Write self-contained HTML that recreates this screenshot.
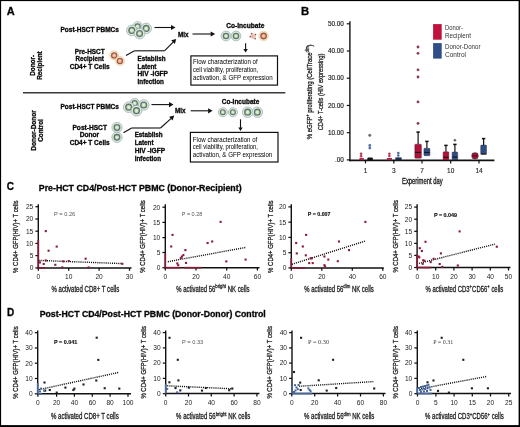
<!DOCTYPE html>
<html><head><meta charset="utf-8"><style>
html,body{margin:0;padding:0;background:#fff;}
svg{display:block;will-change:transform;font-family:"Liberation Sans",sans-serif;}
</style></head><body>
<svg width="520" height="427" viewBox="0 0 520 427">
<rect x="0" y="0" width="520" height="427" fill="#fff"/>
<text x="6.8" y="15.2" font-size="11" font-weight="bold" stroke="#111" stroke-width="0.3">A</text>
<text x="35.1" y="75.8" font-size="6.3" font-weight="bold" stroke="#111" stroke-width="0.3" textLength="20.9" lengthAdjust="spacingAndGlyphs" transform="rotate(-90 35.1 75.8)">Donor-</text>
<text x="42.4" y="79.7" font-size="6.3" font-weight="bold" stroke="#111" stroke-width="0.3" textLength="28.4" lengthAdjust="spacingAndGlyphs" transform="rotate(-90 42.4 79.7)">Recipient</text>
<text x="36.0" y="150.8" font-size="6.3" font-weight="bold" stroke="#111" stroke-width="0.3" textLength="40.7" lengthAdjust="spacingAndGlyphs" transform="rotate(-90 36.0 150.8)">Donor-Donor</text>
<text x="43.0" y="141.7" font-size="6.3" font-weight="bold" stroke="#111" stroke-width="0.3" textLength="22.5" lengthAdjust="spacingAndGlyphs" transform="rotate(-90 43.0 141.7)">Control</text>
<line x1="23" y1="92.8" x2="285.3" y2="92.8" stroke="#3a3a3a" stroke-width="1.5"/>
<text x="60.5" y="32.1" font-size="6.3" font-weight="bold" stroke="#111" stroke-width="0.3" textLength="58.4" lengthAdjust="spacingAndGlyphs">Post-HSCT PBMCs</text>
<text x="89.7" y="53.9" font-size="6.3" font-weight="bold" stroke="#111" stroke-width="0.3" text-anchor="middle" textLength="29.9" lengthAdjust="spacingAndGlyphs">Pre-HSCT</text>
<text x="89.7" y="60.8" font-size="6.3" font-weight="bold" stroke="#111" stroke-width="0.3" text-anchor="middle" textLength="28.2" lengthAdjust="spacingAndGlyphs">Recipient</text>
<text x="89.7" y="68.8" font-size="6.3" font-weight="bold" stroke="#111" stroke-width="0.3" text-anchor="middle" textLength="40.0" lengthAdjust="spacingAndGlyphs">CD4+ T Cells</text>
<text x="178" y="36.8" font-size="6.3" font-weight="bold" stroke="#111" stroke-width="0.3" textLength="10.6" lengthAdjust="spacingAndGlyphs">Mix</text>
<circle cx="137.6" cy="26.4" r="4.77" fill="#dfe9e8" stroke="#9fb4ae" stroke-width="0.8"/>
<circle cx="137.6" cy="26.4" r="2.61" fill="#c8dcb8" stroke="#5e7868" stroke-width="1.215"/>
<circle cx="137.6" cy="26.4" r="0.9900000000000001" fill="#e4efdc"/>
<circle cx="131.8" cy="30.4" r="5.3" fill="#dfe9e8" stroke="#9fb4ae" stroke-width="0.8"/>
<circle cx="131.8" cy="30.4" r="2.9" fill="#c8dcb8" stroke="#5e7868" stroke-width="1.35"/>
<circle cx="131.8" cy="30.4" r="1.1" fill="#e4efdc"/>
<circle cx="146.2" cy="28.4" r="5.3" fill="#dfe9e8" stroke="#9fb4ae" stroke-width="0.8"/>
<circle cx="146.2" cy="28.4" r="2.9" fill="#c8dcb8" stroke="#5e7868" stroke-width="1.35"/>
<circle cx="146.2" cy="28.4" r="1.1" fill="#e4efdc"/>
<circle cx="139.6" cy="33.6" r="5.3" fill="#dfe9e8" stroke="#9fb4ae" stroke-width="0.8"/>
<circle cx="139.6" cy="33.6" r="2.9" fill="#c8dcb8" stroke="#5e7868" stroke-width="1.35"/>
<circle cx="139.6" cy="33.6" r="1.1" fill="#e4efdc"/>
<circle cx="114.2" cy="55.4" r="4.6" fill="#f6ead2" stroke="#e4cfa8" stroke-width="0.7"/>
<circle cx="114.2" cy="55.4" r="2.6" fill="#eeaa98" stroke="#a35c3c" stroke-width="1.25"/>
<circle cx="114.2" cy="55.4" r="1.0" fill="#f8d4c8"/>
<circle cx="119.9" cy="60.9" r="4.6" fill="#f6ead2" stroke="#e4cfa8" stroke-width="0.7"/>
<circle cx="119.9" cy="60.9" r="2.6" fill="#eeaa98" stroke="#a35c3c" stroke-width="1.25"/>
<circle cx="119.9" cy="60.9" r="1.0" fill="#f8d4c8"/>
<line x1="154.5" y1="27.5" x2="171.5" y2="27.5" stroke="#111" stroke-width="1.1"/>
<path d="M175.50,27.50 L171.00,30.10 L171.00,24.90 Z" fill="#111"/>
<line x1="126" y1="55.4" x2="134.5" y2="50.8" stroke="#111" stroke-width="1.1"/>
<line x1="134.5" y1="50.8" x2="164.5" y2="50.8" stroke="#111" stroke-width="1.1"/>
<line x1="164.5" y1="50.8" x2="173.38363423425469" y2="41.84043726801664" stroke="#111" stroke-width="1.1"/>
<path d="M176.20,39.00 L174.88,44.03 L171.19,40.36 Z" fill="#111"/>
<text x="137.6" y="61.0" font-size="6.3" font-weight="bold" stroke="#111" stroke-width="0.3" textLength="27.9" lengthAdjust="spacingAndGlyphs">Establish</text>
<text x="137.6" y="68.8" font-size="6.3" font-weight="bold" stroke="#111" stroke-width="0.3" textLength="18.8" lengthAdjust="spacingAndGlyphs">Latent</text>
<text x="137.6" y="76.4" font-size="6.3" font-weight="bold" stroke="#111" stroke-width="0.3" textLength="30.4" lengthAdjust="spacingAndGlyphs">HIV -iGFP</text>
<text x="137.6" y="84.0" font-size="6.3" font-weight="bold" stroke="#111" stroke-width="0.3" textLength="26.4" lengthAdjust="spacingAndGlyphs">Infection</text>
<line x1="192.5" y1="34.0" x2="211.2" y2="34.0" stroke="#111" stroke-width="1.1"/>
<path d="M215.20,34.00 L210.70,36.60 L210.70,31.40 Z" fill="#111"/>
<text x="226.2" y="27.5" font-size="6.3" font-weight="bold" stroke="#111" stroke-width="0.3" textLength="38.2" lengthAdjust="spacingAndGlyphs">Co-Incubate</text>
<circle cx="226" cy="36" r="4.876" fill="#dfe9e8" stroke="#9fb4ae" stroke-width="0.8"/>
<circle cx="226" cy="36" r="2.668" fill="#c8dcb8" stroke="#5e7868" stroke-width="1.2420000000000002"/>
<circle cx="226" cy="36" r="1.0120000000000002" fill="#e4efdc"/>
<circle cx="236" cy="36" r="4.876" fill="#dfe9e8" stroke="#9fb4ae" stroke-width="0.8"/>
<circle cx="236" cy="36" r="2.668" fill="#c8dcb8" stroke="#5e7868" stroke-width="1.2420000000000002"/>
<circle cx="236" cy="36" r="1.0120000000000002" fill="#e4efdc"/>
<circle cx="253.1" cy="36.2" r="2.6" fill="#f3c9c4"/>
<circle cx="252.6" cy="36.6" r="1.3" fill="#eab0ac"/>
<circle cx="251.6" cy="33.6" r="0.85" fill="#8e5e50"/>
<circle cx="255.5" cy="34.6" r="0.85" fill="#8e5e50"/>
<circle cx="250.3" cy="36.6" r="0.85" fill="#8e5e50"/>
<circle cx="255.2" cy="38.6" r="0.85" fill="#8e5e50"/>
<circle cx="263.6" cy="36" r="4.83" fill="#f6ead2" stroke="#e4cfa8" stroke-width="0.7"/>
<circle cx="263.6" cy="36" r="2.7300000000000004" fill="#eeaa98" stroke="#a35c3c" stroke-width="1.3125"/>
<circle cx="263.6" cy="36" r="1.05" fill="#f8d4c8"/>
<line x1="245.6" y1="43.3" x2="245.6" y2="49.4" stroke="#111" stroke-width="1.1"/>
<path d="M245.60,52.40 L243.40,48.90 L247.80,48.90 Z" fill="#111"/>
<rect x="190.9" y="55.9" width="86.6" height="29.2" fill="none" stroke="#111" stroke-width="1.2"/>
<text x="193.1" y="63.8" font-size="6.6" textLength="64.5" lengthAdjust="spacingAndGlyphs">Flow characterization of</text>
<text x="193.1" y="71.8" font-size="6.6" textLength="65.1" lengthAdjust="spacingAndGlyphs">cell viability, proliferation,</text>
<text x="193.1" y="79.5" font-size="6.6" textLength="79.5" lengthAdjust="spacingAndGlyphs">activation, &amp; GFP expression</text>
<text x="60.5" y="108.8" font-size="6.3" font-weight="bold" stroke="#111" stroke-width="0.3" textLength="58.4" lengthAdjust="spacingAndGlyphs">Post-HSCT PBMCs</text>
<text x="89.7" y="129.6" font-size="6.3" font-weight="bold" stroke="#111" stroke-width="0.3" text-anchor="middle" textLength="34.5" lengthAdjust="spacingAndGlyphs">Post-HSCT</text>
<text x="89.5" y="137.3" font-size="6.3" font-weight="bold" stroke="#111" stroke-width="0.3" text-anchor="middle" textLength="19.4" lengthAdjust="spacingAndGlyphs">Donor</text>
<text x="89.7" y="145.2" font-size="6.3" font-weight="bold" stroke="#111" stroke-width="0.3" text-anchor="middle" textLength="40.0" lengthAdjust="spacingAndGlyphs">CD4+ T Cells</text>
<circle cx="134.7" cy="103.2" r="4.77" fill="#dfe9e8" stroke="#9fb4ae" stroke-width="0.8"/>
<circle cx="134.7" cy="103.2" r="2.61" fill="#c8dcb8" stroke="#5e7868" stroke-width="1.215"/>
<circle cx="134.7" cy="103.2" r="0.9900000000000001" fill="#e4efdc"/>
<circle cx="128.7" cy="107.2" r="5.3" fill="#dfe9e8" stroke="#9fb4ae" stroke-width="0.8"/>
<circle cx="128.7" cy="107.2" r="2.9" fill="#c8dcb8" stroke="#5e7868" stroke-width="1.35"/>
<circle cx="128.7" cy="107.2" r="1.1" fill="#e4efdc"/>
<circle cx="143.7" cy="105.0" r="5.3" fill="#dfe9e8" stroke="#9fb4ae" stroke-width="0.8"/>
<circle cx="143.7" cy="105.0" r="2.9" fill="#c8dcb8" stroke="#5e7868" stroke-width="1.35"/>
<circle cx="143.7" cy="105.0" r="1.1" fill="#e4efdc"/>
<circle cx="136.5" cy="110.7" r="5.3" fill="#dfe9e8" stroke="#9fb4ae" stroke-width="0.8"/>
<circle cx="136.5" cy="110.7" r="2.9" fill="#c8dcb8" stroke="#5e7868" stroke-width="1.35"/>
<circle cx="136.5" cy="110.7" r="1.1" fill="#e4efdc"/>
<circle cx="117" cy="127.5" r="5.141" fill="#dfe9e8" stroke="#9fb4ae" stroke-width="0.8"/>
<circle cx="117" cy="127.5" r="2.8129999999999997" fill="#c8dcb8" stroke="#5e7868" stroke-width="1.3095"/>
<circle cx="117" cy="127.5" r="1.067" fill="#e4efdc"/>
<circle cx="117" cy="137.3" r="5.141" fill="#dfe9e8" stroke="#9fb4ae" stroke-width="0.8"/>
<circle cx="117" cy="137.3" r="2.8129999999999997" fill="#c8dcb8" stroke="#5e7868" stroke-width="1.3095"/>
<circle cx="117" cy="137.3" r="1.067" fill="#e4efdc"/>
<line x1="151.5" y1="104.6" x2="169.5" y2="104.6" stroke="#111" stroke-width="1.1"/>
<path d="M173.50,104.60 L169.00,107.20 L169.00,102.00 Z" fill="#111"/>
<text x="175" y="113.2" font-size="6.3" font-weight="bold" stroke="#111" stroke-width="0.3" textLength="10.6" lengthAdjust="spacingAndGlyphs">Mix</text>
<line x1="123.5" y1="132.7" x2="131.6" y2="128.0" stroke="#111" stroke-width="1.1"/>
<line x1="131.6" y1="128.0" x2="160.5" y2="128.0" stroke="#111" stroke-width="1.1"/>
<line x1="160.5" y1="128.0" x2="171.23436977031065" y2="118.28422006190861" stroke="#111" stroke-width="1.1"/>
<path d="M174.20,115.60 L172.61,120.55 L169.12,116.69 Z" fill="#111"/>
<text x="134.7" y="137.4" font-size="6.3" font-weight="bold" stroke="#111" stroke-width="0.3" textLength="27.9" lengthAdjust="spacingAndGlyphs">Establish</text>
<text x="134.7" y="145.1" font-size="6.3" font-weight="bold" stroke="#111" stroke-width="0.3" textLength="18.8" lengthAdjust="spacingAndGlyphs">Latent</text>
<text x="134.7" y="152.8" font-size="6.3" font-weight="bold" stroke="#111" stroke-width="0.3" textLength="30.4" lengthAdjust="spacingAndGlyphs">HIV -iGFP</text>
<text x="134.7" y="160.5" font-size="6.3" font-weight="bold" stroke="#111" stroke-width="0.3" textLength="26.4" lengthAdjust="spacingAndGlyphs">Infection</text>
<line x1="190.7" y1="110.8" x2="208.6" y2="110.8" stroke="#111" stroke-width="1.1"/>
<path d="M212.60,110.80 L208.10,113.40 L208.10,108.20 Z" fill="#111"/>
<text x="221.8" y="103.8" font-size="6.3" font-weight="bold" stroke="#111" stroke-width="0.3" textLength="37.5" lengthAdjust="spacingAndGlyphs">Co-Incubate</text>
<circle cx="222.8" cy="112.2" r="4.505" fill="#dfe9e8" stroke="#9fb4ae" stroke-width="0.8"/>
<circle cx="222.8" cy="112.2" r="2.465" fill="#c8dcb8" stroke="#5e7868" stroke-width="1.1475"/>
<circle cx="222.8" cy="112.2" r="0.935" fill="#e4efdc"/>
<circle cx="232.9" cy="112.2" r="4.505" fill="#dfe9e8" stroke="#9fb4ae" stroke-width="0.8"/>
<circle cx="232.9" cy="112.2" r="2.465" fill="#c8dcb8" stroke="#5e7868" stroke-width="1.1475"/>
<circle cx="232.9" cy="112.2" r="0.935" fill="#e4efdc"/>
<circle cx="247.6" cy="112.2" r="5.3" fill="#dfe9e8" stroke="#9fb4ae" stroke-width="0.8"/>
<circle cx="247.6" cy="112.2" r="2.9" fill="#c8dcb8" stroke="#5e7868" stroke-width="1.35"/>
<circle cx="247.6" cy="112.2" r="1.1" fill="#e4efdc"/>
<circle cx="257.3" cy="112.2" r="5.3" fill="#dfe9e8" stroke="#9fb4ae" stroke-width="0.8"/>
<circle cx="257.3" cy="112.2" r="2.9" fill="#c8dcb8" stroke="#5e7868" stroke-width="1.35"/>
<circle cx="257.3" cy="112.2" r="1.1" fill="#e4efdc"/>
<line x1="240.5" y1="119.3" x2="240.5" y2="128.0" stroke="#111" stroke-width="1.1"/>
<path d="M240.50,131.00 L238.30,127.50 L242.70,127.50 Z" fill="#111"/>
<rect x="190.4" y="132.4" width="87.6" height="29.6" fill="none" stroke="#111" stroke-width="1.2"/>
<text x="192.8" y="141.5" font-size="6.6" textLength="64.5" lengthAdjust="spacingAndGlyphs">Flow characterization of</text>
<text x="192.8" y="149.3" font-size="6.6" textLength="65.1" lengthAdjust="spacingAndGlyphs">cell viability, proliferation,</text>
<text x="192.8" y="157.0" font-size="6.6" textLength="79.5" lengthAdjust="spacingAndGlyphs">activation, &amp; GFP expression</text>
<text x="301.0" y="15.3" font-size="11.3" font-weight="bold" stroke="#111" stroke-width="0.3">B</text>
<text transform="translate(312.3,139.2) rotate(-90) scale(0.7597,1)" font-size="7.9" fill="#222" stroke="#222" stroke-width="0.3"><tspan>% eGFP</tspan><tspan dy="-3.32" font-size="4.90">+</tspan><tspan dy="3.32" font-size="7.9"> proliferating (CellTrace</tspan><tspan dy="-3.32" font-size="4.90">dim</tspan><tspan dy="3.32" font-size="7.9">)</tspan></text>
<text transform="translate(323.4,130.3) rotate(-90) scale(0.7223,1)" font-size="7.9" fill="#222" stroke="#222" stroke-width="0.3"><tspan>CD4+ T-cells (HIV expressing)</tspan></text>
<line x1="349.9" y1="21.3" x2="349.9" y2="161.2" stroke="#111" stroke-width="1.4"/>
<line x1="349.2" y1="160.4" x2="494.4" y2="160.4" stroke="#111" stroke-width="1.8"/>
<line x1="346.8" y1="23.8" x2="349.9" y2="23.8" stroke="#111" stroke-width="1.2"/>
<text x="343.9" y="26.0" font-size="6.3" text-anchor="end" fill="#1a1a1a" textLength="16.0" lengthAdjust="spacingAndGlyphs" stroke="#1a1a1a" stroke-width="0.15">50.00</text>
<line x1="346.8" y1="51.019999999999996" x2="349.9" y2="51.019999999999996" stroke="#111" stroke-width="1.2"/>
<text x="343.9" y="53.22" font-size="6.3" text-anchor="end" fill="#1a1a1a" textLength="16.0" lengthAdjust="spacingAndGlyphs" stroke="#1a1a1a" stroke-width="0.15">40.00</text>
<line x1="346.8" y1="78.24" x2="349.9" y2="78.24" stroke="#111" stroke-width="1.2"/>
<text x="343.9" y="80.44" font-size="6.3" text-anchor="end" fill="#1a1a1a" textLength="16.0" lengthAdjust="spacingAndGlyphs" stroke="#1a1a1a" stroke-width="0.15">30.00</text>
<line x1="346.8" y1="105.46" x2="349.9" y2="105.46" stroke="#111" stroke-width="1.2"/>
<text x="343.9" y="107.66" font-size="6.3" text-anchor="end" fill="#1a1a1a" textLength="16.0" lengthAdjust="spacingAndGlyphs" stroke="#1a1a1a" stroke-width="0.15">20.00</text>
<line x1="346.8" y1="132.68" x2="349.9" y2="132.68" stroke="#111" stroke-width="1.2"/>
<text x="343.9" y="134.88" font-size="6.3" text-anchor="end" fill="#1a1a1a" textLength="16.0" lengthAdjust="spacingAndGlyphs" stroke="#1a1a1a" stroke-width="0.15">10.00</text>
<line x1="346.8" y1="159.9" x2="349.9" y2="159.9" stroke="#111" stroke-width="1.2"/>
<text x="343.9" y="162.1" font-size="6.3" text-anchor="end" fill="#1a1a1a" textLength="8.9" lengthAdjust="spacingAndGlyphs" stroke="#1a1a1a" stroke-width="0.15">.00</text>
<line x1="365.5" y1="160.4" x2="365.5" y2="163.4" stroke="#111" stroke-width="1.2"/>
<text x="365.5" y="172.6" font-size="6.5" text-anchor="middle" fill="#1a1a1a" stroke="#1a1a1a" stroke-width="0.12">1</text>
<line x1="393.8" y1="160.4" x2="393.8" y2="163.4" stroke="#111" stroke-width="1.2"/>
<text x="393.8" y="172.6" font-size="6.5" text-anchor="middle" fill="#1a1a1a" stroke="#1a1a1a" stroke-width="0.12">3</text>
<line x1="422.0" y1="160.4" x2="422.0" y2="163.4" stroke="#111" stroke-width="1.2"/>
<text x="422.0" y="172.6" font-size="6.5" text-anchor="middle" fill="#1a1a1a" stroke="#1a1a1a" stroke-width="0.12">7</text>
<line x1="450.7" y1="160.4" x2="450.7" y2="163.4" stroke="#111" stroke-width="1.2"/>
<text x="450.7" y="172.6" font-size="6.5" text-anchor="middle" fill="#1a1a1a" stroke="#1a1a1a" stroke-width="0.12">10</text>
<line x1="479.0" y1="160.4" x2="479.0" y2="163.4" stroke="#111" stroke-width="1.2"/>
<text x="479.0" y="172.6" font-size="6.5" text-anchor="middle" fill="#1a1a1a" stroke="#1a1a1a" stroke-width="0.12">14</text>
<text transform="translate(402.0,183.7) scale(0.6717,1)" font-size="8.7" fill="#222" stroke="#222" stroke-width="0.35"><tspan>Experiment day</tspan></text>
<rect x="433.1" y="24.1" width="8.6" height="15.6" fill="#c0123c"/>
<rect x="433.1" y="43.1" width="8.6" height="15.5" fill="#2d4f86"/>
<text x="445.0" y="30.0" font-size="6.3" fill="#333" textLength="18.0" lengthAdjust="spacingAndGlyphs">Donor-</text>
<text x="445.0" y="37.8" font-size="6.3" fill="#333" textLength="26.0" lengthAdjust="spacingAndGlyphs">Recipient</text>
<text x="445.0" y="49.3" font-size="6.3" fill="#333" textLength="35.5" lengthAdjust="spacingAndGlyphs">Donor-Donor</text>
<text x="445.0" y="57.0" font-size="6.3" fill="#333" textLength="21.0" lengthAdjust="spacingAndGlyphs">Control</text>
<circle cx="361.1" cy="153.7" r="1.3" fill="#b8385a"/>
<circle cx="361.1" cy="156.2" r="1.3" fill="#b8385a"/>
<rect x="359.4" y="158.0" width="4.4" height="2.2" fill="#a82848"/>
<circle cx="369.8" cy="135.3" r="1.5" fill="#6a7280"/>
<circle cx="369.8" cy="145.4" r="1.4" fill="#5674a4"/>
<circle cx="369.8" cy="148.0" r="1.4" fill="#5674a4"/>
<rect x="367.3" y="157.4" width="5.6" height="3.0" fill="#111" rx="1.2"/>
<circle cx="389.4" cy="153.7" r="1.25" fill="#b8385a"/>
<circle cx="389.4" cy="156.1" r="1.25" fill="#b8385a"/>
<rect x="386.8" y="158.0" width="5.2" height="2.2" fill="#a82848"/>
<circle cx="398.3" cy="153.0" r="1.25" fill="#4a6898"/>
<circle cx="398.3" cy="155.4" r="1.25" fill="#4a6898"/>
<rect x="395.4" y="157.4" width="6.2" height="3.0" fill="#1b2b48"/>
<circle cx="418.0" cy="47.0" r="1.4" fill="#8c3a52"/>
<circle cx="418.0" cy="53.3" r="1.4" fill="#8c3a52"/>
<circle cx="418.0" cy="69.8" r="1.4" fill="#8c3a52"/>
<circle cx="418.0" cy="77.0" r="1.4" fill="#8c3a52"/>
<circle cx="418.0" cy="101.9" r="1.4" fill="#8c3a52"/>
<circle cx="418.0" cy="123.4" r="1.4" fill="#8c3a52"/>
<line x1="418.1" y1="131.9" x2="418.1" y2="144.2" stroke="#111" stroke-width="1.2"/>
<line x1="416.40000000000003" y1="132.1" x2="419.8" y2="132.1" stroke="#111" stroke-width="1.5"/>
<rect x="414.8" y="144.2" width="6.599999999999966" height="14.0" fill="#b3113a" stroke="#2a1a20" stroke-width="0.4" rx="0.8"/>
<line x1="415.1" y1="152.4" x2="421.09999999999997" y2="152.4" stroke="#151515" stroke-width="1.1"/>
<line x1="426.9" y1="141.2" x2="426.9" y2="148.3" stroke="#111" stroke-width="1.2"/>
<line x1="425.2" y1="141.39999999999998" x2="428.59999999999997" y2="141.39999999999998" stroke="#111" stroke-width="1.5"/>
<rect x="423.9" y="148.3" width="6.0" height="7.399999999999977" fill="#2d4f86" stroke="#2a1a20" stroke-width="0.4" rx="0.8"/>
<line x1="424.2" y1="152.4" x2="429.59999999999997" y2="152.4" stroke="#151515" stroke-width="1.1"/>
<line x1="445.95000000000005" y1="145.2" x2="445.95000000000005" y2="151.8" stroke="#111" stroke-width="1.2"/>
<line x1="444.25000000000006" y1="145.39999999999998" x2="447.65000000000003" y2="145.39999999999998" stroke="#111" stroke-width="1.5"/>
<rect x="443.1" y="151.8" width="5.699999999999989" height="8.199999999999989" fill="#b3113a" stroke="#2a1a20" stroke-width="0.4" rx="0.8"/>
<line x1="443.40000000000003" y1="157.2" x2="448.5" y2="157.2" stroke="#151515" stroke-width="1.1"/>
<line x1="454.9" y1="144.2" x2="454.9" y2="152.0" stroke="#111" stroke-width="1.2"/>
<line x1="453.2" y1="144.39999999999998" x2="456.59999999999997" y2="144.39999999999998" stroke="#111" stroke-width="1.5"/>
<rect x="452.1" y="152.0" width="5.599999999999966" height="8.0" fill="#2d4f86" stroke="#2a1a20" stroke-width="0.4" rx="0.8"/>
<line x1="452.40000000000003" y1="157.0" x2="457.4" y2="157.0" stroke="#151515" stroke-width="1.1"/>
<circle cx="454.9" cy="140.3" r="1.3" fill="#666"/>
<rect x="471.8" y="152.7" width="6.4" height="6.2" fill="#a8123a" stroke="#2a1a20" stroke-width="0.5" rx="2.4"/>
<line x1="472.3" y1="155.9" x2="477.7" y2="155.9" stroke="#3a0a18" stroke-width="0.9"/>
<line x1="483.6" y1="138.4" x2="483.6" y2="145.1" stroke="#111" stroke-width="1.2"/>
<line x1="481.90000000000003" y1="138.6" x2="485.3" y2="138.6" stroke="#111" stroke-width="1.5"/>
<rect x="480.7" y="145.1" width="5.800000000000011" height="9.0" fill="#2d4f86" stroke="#2a1a20" stroke-width="0.4" rx="0.8"/>
<line x1="480.7" y1="154.1" x2="486.5" y2="154.1" stroke="#111" stroke-width="1.0"/>
<text x="6.8" y="190.3" font-size="10.0" font-weight="bold" stroke="#111" stroke-width="0.3">C</text>
<text x="38.8" y="190.9" font-size="8.2" font-weight="bold" stroke="#111" stroke-width="0.3" textLength="202.8" lengthAdjust="spacingAndGlyphs">Pre-HCT CD4/Post-HCT PBMC (Donor-Recipient)</text>
<text x="6.9" y="315.6" font-size="10.0" font-weight="bold" stroke="#111" stroke-width="0.3">D</text>
<text x="39.7" y="316.7" font-size="8.3" font-weight="bold" stroke="#111" stroke-width="0.3" textLength="226.1" lengthAdjust="spacingAndGlyphs">Post-HCT CD4/Post-HCT PBMC (Donor-Donor) Control</text>
<line x1="38.3" y1="204.2" x2="38.3" y2="268.65" stroke="#111" stroke-width="1.4"/>
<line x1="37.599999999999994" y1="267.9" x2="131.5" y2="267.9" stroke="#111" stroke-width="1.5"/>
<line x1="35.4" y1="206.7" x2="38.3" y2="206.7" stroke="#111" stroke-width="1.25"/>
<text x="33.3" y="209.0" font-size="6.6" text-anchor="end" fill="#222">25</text>
<line x1="35.4" y1="219.0" x2="38.3" y2="219.0" stroke="#111" stroke-width="1.25"/>
<text x="33.3" y="221.3" font-size="6.6" text-anchor="end" fill="#222">20</text>
<line x1="35.4" y1="231.2" x2="38.3" y2="231.2" stroke="#111" stroke-width="1.25"/>
<text x="33.3" y="233.5" font-size="6.6" text-anchor="end" fill="#222">15</text>
<line x1="35.4" y1="243.4" x2="38.3" y2="243.4" stroke="#111" stroke-width="1.25"/>
<text x="33.3" y="245.70000000000002" font-size="6.6" text-anchor="end" fill="#222">10</text>
<line x1="35.4" y1="255.6" x2="38.3" y2="255.6" stroke="#111" stroke-width="1.25"/>
<text x="33.3" y="257.9" font-size="6.6" text-anchor="end" fill="#222">5</text>
<line x1="35.4" y1="267.9" x2="38.3" y2="267.9" stroke="#111" stroke-width="1.25"/>
<text x="33.3" y="270.2" font-size="6.6" text-anchor="end" fill="#222">0</text>
<line x1="38.3" y1="267.9" x2="38.3" y2="270.79999999999995" stroke="#111" stroke-width="1.25"/>
<text x="38.3" y="279.0" font-size="6.6" text-anchor="middle" fill="#222">0</text>
<line x1="68.7" y1="267.9" x2="68.7" y2="270.79999999999995" stroke="#111" stroke-width="1.25"/>
<text x="68.7" y="279.0" font-size="6.6" text-anchor="middle" fill="#222">10</text>
<line x1="99.1" y1="267.9" x2="99.1" y2="270.79999999999995" stroke="#111" stroke-width="1.25"/>
<text x="99.1" y="279.0" font-size="6.6" text-anchor="middle" fill="#222">20</text>
<line x1="129.5" y1="267.9" x2="129.5" y2="270.79999999999995" stroke="#111" stroke-width="1.25"/>
<text x="129.5" y="279.0" font-size="6.6" text-anchor="middle" fill="#222">30</text>
<rect x="37.449999999999996" y="240.0" width="1.7" height="27.5" fill="#861a36"/>
<rect x="38.5" y="267.04999999999995" width="7" height="1.7" fill="#861a36"/>
<line x1="38.5" y1="260.4" x2="122.5" y2="263.6" stroke="#111" stroke-width="1.4" stroke-dasharray="1.1 1.0"/>
<rect x="44.75" y="230.04999999999998" width="2.1" height="2.1" fill="#8c1838"/>
<rect x="55.650000000000006" y="245.54999999999998" width="2.1" height="2.1" fill="#8c1838"/>
<rect x="47.550000000000004" y="249.64999999999998" width="2.1" height="2.1" fill="#8c1838"/>
<rect x="44.75" y="259.34999999999997" width="2.1" height="2.1" fill="#8c1838"/>
<rect x="38.85" y="261.34999999999997" width="2.1" height="2.1" fill="#8c1838"/>
<rect x="42.650000000000006" y="262.95" width="2.1" height="2.1" fill="#8c1838"/>
<rect x="54.25" y="263.75" width="2.1" height="2.1" fill="#8c1838"/>
<rect x="62.25" y="260.34999999999997" width="2.1" height="2.1" fill="#8c1838"/>
<rect x="67.75" y="259.95" width="2.1" height="2.1" fill="#8c1838"/>
<rect x="84.55" y="257.65" width="2.1" height="2.1" fill="#8c1838"/>
<rect x="121.25" y="262.75" width="2.1" height="2.1" fill="#8c1838"/>
<rect x="61.25" y="266.34999999999997" width="2.1" height="2.1" fill="#8c1838"/>
<rect x="87.55" y="266.34999999999997" width="2.1" height="2.1" fill="#8c1838"/>
<text x="54.0" y="216.3" font-size="5.5" fill="#555" textLength="21.2" lengthAdjust="spacingAndGlyphs">P = 0.26</text>
<text transform="translate(17.9,272.9) rotate(-90) scale(0.7490,1)" font-size="8.0" fill="#222" stroke="#222" stroke-width="0.3"><tspan>% CD4+ GFP(HIV)+ T cells</tspan></text>
<text transform="translate(51.5,291.5) scale(0.7418,1)" font-size="8.2" fill="#222" stroke="#222" stroke-width="0.3"><tspan>% activated CD8+ T cells</tspan></text>
<line x1="165.3" y1="204.2" x2="165.3" y2="268.45" stroke="#111" stroke-width="1.4"/>
<line x1="164.60000000000002" y1="267.7" x2="259.5" y2="267.7" stroke="#111" stroke-width="1.5"/>
<line x1="162.4" y1="207.2" x2="165.3" y2="207.2" stroke="#111" stroke-width="1.25"/>
<text x="160.3" y="209.5" font-size="6.6" text-anchor="end" fill="#222">20</text>
<line x1="162.4" y1="222.4" x2="165.3" y2="222.4" stroke="#111" stroke-width="1.25"/>
<text x="160.3" y="224.70000000000002" font-size="6.6" text-anchor="end" fill="#222">15</text>
<line x1="162.4" y1="237.6" x2="165.3" y2="237.6" stroke="#111" stroke-width="1.25"/>
<text x="160.3" y="239.9" font-size="6.6" text-anchor="end" fill="#222">10</text>
<line x1="162.4" y1="252.5" x2="165.3" y2="252.5" stroke="#111" stroke-width="1.25"/>
<text x="160.3" y="254.8" font-size="6.6" text-anchor="end" fill="#222">5</text>
<line x1="162.4" y1="267.7" x2="165.3" y2="267.7" stroke="#111" stroke-width="1.25"/>
<text x="160.3" y="270.0" font-size="6.6" text-anchor="end" fill="#222">0</text>
<line x1="165.3" y1="267.7" x2="165.3" y2="270.59999999999997" stroke="#111" stroke-width="1.25"/>
<text x="165.3" y="278.8" font-size="6.6" text-anchor="middle" fill="#222">0</text>
<line x1="196.0" y1="267.7" x2="196.0" y2="270.59999999999997" stroke="#111" stroke-width="1.25"/>
<text x="196.0" y="278.8" font-size="6.6" text-anchor="middle" fill="#222">20</text>
<line x1="226.7" y1="267.7" x2="226.7" y2="270.59999999999997" stroke="#111" stroke-width="1.25"/>
<text x="226.7" y="278.8" font-size="6.6" text-anchor="middle" fill="#222">40</text>
<line x1="257.4" y1="267.7" x2="257.4" y2="270.59999999999997" stroke="#111" stroke-width="1.25"/>
<text x="257.4" y="278.8" font-size="6.6" text-anchor="middle" fill="#222">60</text>
<rect x="164.45000000000002" y="253.8" width="1.7" height="14" fill="#861a36"/>
<rect x="165.5" y="266.84999999999997" width="15" height="1.7" fill="#861a36"/>
<rect x="184" y="266.84999999999997" width="17" height="1.7" fill="#861a36"/>
<line x1="167.8" y1="261.7" x2="246.0" y2="247.4" stroke="#111" stroke-width="1.4" stroke-dasharray="1.1 1.0"/>
<rect x="219.54999999999998" y="220.85" width="2.1" height="2.1" fill="#8c1838"/>
<rect x="171.45" y="233.85" width="2.1" height="2.1" fill="#8c1838"/>
<rect x="170.14999999999998" y="245.45" width="2.1" height="2.1" fill="#8c1838"/>
<rect x="206.54999999999998" y="241.95" width="2.1" height="2.1" fill="#8c1838"/>
<rect x="211.14999999999998" y="240.45" width="2.1" height="2.1" fill="#8c1838"/>
<rect x="184.35" y="249.04999999999998" width="2.1" height="2.1" fill="#8c1838"/>
<rect x="182.35" y="254.04999999999998" width="2.1" height="2.1" fill="#8c1838"/>
<rect x="180.95" y="255.45" width="2.1" height="2.1" fill="#8c1838"/>
<rect x="179.75" y="256.84999999999997" width="2.1" height="2.1" fill="#8c1838"/>
<rect x="184.95" y="261.84999999999997" width="2.1" height="2.1" fill="#8c1838"/>
<rect x="176.25" y="262.34999999999997" width="2.1" height="2.1" fill="#8c1838"/>
<rect x="177.14999999999998" y="264.15" width="2.1" height="2.1" fill="#8c1838"/>
<rect x="225.25" y="260.34999999999997" width="2.1" height="2.1" fill="#8c1838"/>
<rect x="244.54999999999998" y="258.55" width="2.1" height="2.1" fill="#8c1838"/>
<text x="181.8" y="216.1" font-size="5.5" fill="#555" textLength="20.5" lengthAdjust="spacingAndGlyphs">P = 0.28</text>
<text transform="translate(145.4,272.7) rotate(-90) scale(0.7490,1)" font-size="8.0" fill="#222" stroke="#222" stroke-width="0.3"><tspan>% CD4+ GFP(HIV)+ T cells</tspan></text>
<text transform="translate(176.3,291.5) scale(0.7274,1)" font-size="8.2" fill="#222" stroke="#222" stroke-width="0.3"><tspan>% activated 56</tspan><tspan dy="-3.12" font-size="5.90">bright</tspan><tspan dy="3.12" font-size="8.2"> NK cells</tspan></text>
<line x1="291.3" y1="204.2" x2="291.3" y2="268.65" stroke="#111" stroke-width="1.4"/>
<line x1="290.6" y1="267.9" x2="383.8" y2="267.9" stroke="#111" stroke-width="1.5"/>
<line x1="288.40000000000003" y1="206.9" x2="291.3" y2="206.9" stroke="#111" stroke-width="1.25"/>
<text x="286.3" y="209.20000000000002" font-size="6.6" text-anchor="end" fill="#222">20</text>
<line x1="288.40000000000003" y1="222.2" x2="291.3" y2="222.2" stroke="#111" stroke-width="1.25"/>
<text x="286.3" y="224.5" font-size="6.6" text-anchor="end" fill="#222">15</text>
<line x1="288.40000000000003" y1="237.4" x2="291.3" y2="237.4" stroke="#111" stroke-width="1.25"/>
<text x="286.3" y="239.70000000000002" font-size="6.6" text-anchor="end" fill="#222">10</text>
<line x1="288.40000000000003" y1="252.7" x2="291.3" y2="252.7" stroke="#111" stroke-width="1.25"/>
<text x="286.3" y="255.0" font-size="6.6" text-anchor="end" fill="#222">5</text>
<line x1="288.40000000000003" y1="267.9" x2="291.3" y2="267.9" stroke="#111" stroke-width="1.25"/>
<text x="286.3" y="270.2" font-size="6.6" text-anchor="end" fill="#222">0</text>
<line x1="291.3" y1="267.9" x2="291.3" y2="270.79999999999995" stroke="#111" stroke-width="1.25"/>
<text x="291.3" y="279.0" font-size="6.6" text-anchor="middle" fill="#222">0</text>
<line x1="321.8" y1="267.9" x2="321.8" y2="270.79999999999995" stroke="#111" stroke-width="1.25"/>
<text x="321.8" y="279.0" font-size="6.6" text-anchor="middle" fill="#222">20</text>
<line x1="352.3" y1="267.9" x2="352.3" y2="270.79999999999995" stroke="#111" stroke-width="1.25"/>
<text x="352.3" y="279.0" font-size="6.6" text-anchor="middle" fill="#222">40</text>
<line x1="382.8" y1="267.9" x2="382.8" y2="270.79999999999995" stroke="#111" stroke-width="1.25"/>
<text x="382.8" y="279.0" font-size="6.6" text-anchor="middle" fill="#222">60</text>
<rect x="290.45" y="258.0" width="1.7" height="10" fill="#861a36"/>
<rect x="291.5" y="267.04999999999995" width="14" height="1.7" fill="#861a36"/>
<line x1="291.9" y1="264.3" x2="365.4" y2="241.0" stroke="#111" stroke-width="1.4" stroke-dasharray="1.1 1.0"/>
<rect x="364.34999999999997" y="220.85" width="2.1" height="2.1" fill="#8c1838"/>
<rect x="305.05" y="233.85" width="2.1" height="2.1" fill="#8c1838"/>
<rect x="337.95" y="240.45" width="2.1" height="2.1" fill="#8c1838"/>
<rect x="295.15" y="241.95" width="2.1" height="2.1" fill="#8c1838"/>
<rect x="301.75" y="245.45" width="2.1" height="2.1" fill="#8c1838"/>
<rect x="347.95" y="249.04999999999998" width="2.1" height="2.1" fill="#8c1838"/>
<rect x="295.75" y="252.35" width="2.1" height="2.1" fill="#8c1838"/>
<rect x="304.75" y="254.25" width="2.1" height="2.1" fill="#8c1838"/>
<rect x="323.34999999999997" y="255.45" width="2.1" height="2.1" fill="#8c1838"/>
<rect x="309.55" y="257.25" width="2.1" height="2.1" fill="#8c1838"/>
<rect x="310.75" y="257.25" width="2.1" height="2.1" fill="#8c1838"/>
<rect x="327.25" y="258.55" width="2.1" height="2.1" fill="#8c1838"/>
<rect x="308.15" y="262.05" width="2.1" height="2.1" fill="#8c1838"/>
<rect x="311.65" y="262.05" width="2.1" height="2.1" fill="#8c1838"/>
<rect x="336.75" y="260.15" width="2.1" height="2.1" fill="#8c1838"/>
<rect x="323.34999999999997" y="264.15" width="2.1" height="2.1" fill="#8c1838"/>
<rect x="324.05" y="265.55" width="2.1" height="2.1" fill="#8c1838"/>
<text x="307.8" y="215.8" font-size="5.6" font-weight="bold" fill="#151515" textLength="22.7" lengthAdjust="spacingAndGlyphs" stroke="#151515" stroke-width="0.15">P = 0.007</text>
<text transform="translate(272.8,272.9) rotate(-90) scale(0.7490,1)" font-size="8.0" fill="#222" stroke="#222" stroke-width="0.3"><tspan>% CD4+ GFP(HIV)+ T cells</tspan></text>
<text transform="translate(304.3,291.5) scale(0.7276,1)" font-size="8.2" fill="#222" stroke="#222" stroke-width="0.3"><tspan>% activated 56</tspan><tspan dy="-3.12" font-size="5.90">dim</tspan><tspan dy="3.12" font-size="8.2"> NK cells</tspan></text>
<line x1="417.1" y1="204.2" x2="417.1" y2="268.35" stroke="#111" stroke-width="1.4"/>
<line x1="416.40000000000003" y1="267.6" x2="510.5" y2="267.6" stroke="#111" stroke-width="1.5"/>
<line x1="414.20000000000005" y1="207.1" x2="417.1" y2="207.1" stroke="#111" stroke-width="1.25"/>
<text x="412.1" y="209.4" font-size="6.6" text-anchor="end" fill="#222">25</text>
<line x1="414.20000000000005" y1="219.2" x2="417.1" y2="219.2" stroke="#111" stroke-width="1.25"/>
<text x="412.1" y="221.5" font-size="6.6" text-anchor="end" fill="#222">20</text>
<line x1="414.20000000000005" y1="231.3" x2="417.1" y2="231.3" stroke="#111" stroke-width="1.25"/>
<text x="412.1" y="233.60000000000002" font-size="6.6" text-anchor="end" fill="#222">15</text>
<line x1="414.20000000000005" y1="243.4" x2="417.1" y2="243.4" stroke="#111" stroke-width="1.25"/>
<text x="412.1" y="245.70000000000002" font-size="6.6" text-anchor="end" fill="#222">10</text>
<line x1="414.20000000000005" y1="255.4" x2="417.1" y2="255.4" stroke="#111" stroke-width="1.25"/>
<text x="412.1" y="257.7" font-size="6.6" text-anchor="end" fill="#222">5</text>
<line x1="414.20000000000005" y1="267.5" x2="417.1" y2="267.5" stroke="#111" stroke-width="1.25"/>
<text x="412.1" y="269.8" font-size="6.6" text-anchor="end" fill="#222">0</text>
<line x1="417.3" y1="267.6" x2="417.3" y2="270.5" stroke="#111" stroke-width="1.25"/>
<text x="417.3" y="278.70000000000005" font-size="6.6" text-anchor="middle" fill="#222">0</text>
<line x1="435.7" y1="267.6" x2="435.7" y2="270.5" stroke="#111" stroke-width="1.25"/>
<text x="435.7" y="278.70000000000005" font-size="6.6" text-anchor="middle" fill="#222">10</text>
<line x1="453.9" y1="267.6" x2="453.9" y2="270.5" stroke="#111" stroke-width="1.25"/>
<text x="453.9" y="278.70000000000005" font-size="6.6" text-anchor="middle" fill="#222">20</text>
<line x1="472.1" y1="267.6" x2="472.1" y2="270.5" stroke="#111" stroke-width="1.25"/>
<text x="472.1" y="278.70000000000005" font-size="6.6" text-anchor="middle" fill="#222">30</text>
<line x1="490.3" y1="267.6" x2="490.3" y2="270.5" stroke="#111" stroke-width="1.25"/>
<text x="490.3" y="278.70000000000005" font-size="6.6" text-anchor="middle" fill="#222">40</text>
<line x1="508.5" y1="267.6" x2="508.5" y2="270.5" stroke="#111" stroke-width="1.25"/>
<text x="508.5" y="278.70000000000005" font-size="6.6" text-anchor="middle" fill="#222">50</text>
<rect x="416.25" y="255.0" width="1.7" height="12.6" fill="#861a36"/>
<rect x="417.3" y="266.75" width="14" height="1.7" fill="#861a36"/>
<line x1="418.9" y1="263.4" x2="495.0" y2="244.1" stroke="#111" stroke-width="1.4" stroke-dasharray="1.1 1.0"/>
<rect x="458.55" y="230.35" width="2.1" height="2.1" fill="#8c1838"/>
<rect x="424.45" y="240.75" width="2.1" height="2.1" fill="#8c1838"/>
<rect x="418.75" y="247.14999999999998" width="2.1" height="2.1" fill="#8c1838"/>
<rect x="420.84999999999997" y="249.95" width="2.1" height="2.1" fill="#8c1838"/>
<rect x="495.75" y="245.64999999999998" width="2.1" height="2.1" fill="#8c1838"/>
<rect x="439.84999999999997" y="252.35" width="2.1" height="2.1" fill="#8c1838"/>
<rect x="417.55" y="255.45" width="2.1" height="2.1" fill="#8c1838"/>
<rect x="418.25" y="256.34999999999997" width="2.1" height="2.1" fill="#8c1838"/>
<rect x="432.55" y="257.75" width="2.1" height="2.1" fill="#8c1838"/>
<rect x="422.15" y="259.25" width="2.1" height="2.1" fill="#8c1838"/>
<rect x="423.45" y="259.75" width="2.1" height="2.1" fill="#8c1838"/>
<rect x="429.65" y="261.05" width="2.1" height="2.1" fill="#8c1838"/>
<rect x="421.65" y="262.75" width="2.1" height="2.1" fill="#8c1838"/>
<rect x="438.65" y="262.95" width="2.1" height="2.1" fill="#8c1838"/>
<rect x="456.75" y="264.45" width="2.1" height="2.1" fill="#8c1838"/>
<rect x="441.25" y="265.84999999999997" width="2.1" height="2.1" fill="#8c1838"/>
<text x="433.9" y="217.2" font-size="5.6" font-weight="bold" fill="#151515" textLength="23.2" lengthAdjust="spacingAndGlyphs" stroke="#151515" stroke-width="0.15">P = 0.049</text>
<text transform="translate(398.4,272.6) rotate(-90) scale(0.7490,1)" font-size="8.0" fill="#222" stroke="#222" stroke-width="0.3"><tspan>% CD4+ GFP(HIV)+ T cells</tspan></text>
<text transform="translate(425.5,291.5) scale(0.7239,1)" font-size="8.2" fill="#222" stroke="#222" stroke-width="0.3"><tspan>% activated CD3</tspan><tspan dy="-3.12" font-size="5.90">+</tspan><tspan dy="3.12" font-size="8.2">CD56</tspan><tspan dy="-3.12" font-size="5.90">+</tspan><tspan dy="3.12" font-size="8.2"> cells</tspan></text>
<line x1="37.7" y1="330.5" x2="37.7" y2="394.55" stroke="#111" stroke-width="1.4"/>
<line x1="37.0" y1="393.8" x2="131.0" y2="393.8" stroke="#111" stroke-width="1.5"/>
<line x1="34.800000000000004" y1="332.7" x2="37.7" y2="332.7" stroke="#111" stroke-width="1.25"/>
<text x="32.7" y="335.0" font-size="6.6" text-anchor="end" fill="#222">40</text>
<line x1="34.800000000000004" y1="348.0" x2="37.7" y2="348.0" stroke="#111" stroke-width="1.25"/>
<text x="32.7" y="350.3" font-size="6.6" text-anchor="end" fill="#222">30</text>
<line x1="34.800000000000004" y1="363.2" x2="37.7" y2="363.2" stroke="#111" stroke-width="1.25"/>
<text x="32.7" y="365.5" font-size="6.6" text-anchor="end" fill="#222">20</text>
<line x1="34.800000000000004" y1="378.5" x2="37.7" y2="378.5" stroke="#111" stroke-width="1.25"/>
<text x="32.7" y="380.8" font-size="6.6" text-anchor="end" fill="#222">10</text>
<line x1="34.800000000000004" y1="393.8" x2="37.7" y2="393.8" stroke="#111" stroke-width="1.25"/>
<text x="32.7" y="396.1" font-size="6.6" text-anchor="end" fill="#222">0</text>
<line x1="37.9" y1="393.8" x2="37.9" y2="396.7" stroke="#111" stroke-width="1.25"/>
<text x="37.9" y="404.90000000000003" font-size="6.6" text-anchor="middle" fill="#222">0</text>
<line x1="56.6" y1="393.8" x2="56.6" y2="396.7" stroke="#111" stroke-width="1.25"/>
<text x="56.6" y="404.90000000000003" font-size="6.6" text-anchor="middle" fill="#222">20</text>
<line x1="74.4" y1="393.8" x2="74.4" y2="396.7" stroke="#111" stroke-width="1.25"/>
<text x="74.4" y="404.90000000000003" font-size="6.6" text-anchor="middle" fill="#222">40</text>
<line x1="92.3" y1="393.8" x2="92.3" y2="396.7" stroke="#111" stroke-width="1.25"/>
<text x="92.3" y="404.90000000000003" font-size="6.6" text-anchor="middle" fill="#222">60</text>
<line x1="110.1" y1="393.8" x2="110.1" y2="396.7" stroke="#111" stroke-width="1.25"/>
<text x="110.1" y="404.90000000000003" font-size="6.6" text-anchor="middle" fill="#222">80</text>
<line x1="128.0" y1="393.8" x2="128.0" y2="396.7" stroke="#111" stroke-width="1.25"/>
<text x="128.0" y="404.90000000000003" font-size="6.6" text-anchor="middle" fill="#222">100</text>
<rect x="36.85" y="383.0" width="1.7" height="10.6" fill="#46659a"/>
<rect x="37.7" y="392.95" width="4" height="1.7" fill="#46659a"/>
<line x1="39.1" y1="389.6" x2="118.9" y2="372.4" stroke="#111" stroke-width="1.4" stroke-dasharray="1.1 1.0"/>
<rect x="95.65" y="336.65" width="2.1" height="2.1" fill="#1a1f2c"/>
<rect x="97.25" y="358.84999999999997" width="2.1" height="2.1" fill="#1a1f2c"/>
<rect x="43.45" y="381.45" width="2.1" height="2.1" fill="#1a1f2c"/>
<rect x="95.25" y="379.45" width="2.1" height="2.1" fill="#1a1f2c"/>
<rect x="82.45" y="383.45" width="2.1" height="2.1" fill="#1a1f2c"/>
<rect x="64.35000000000001" y="386.55" width="2.1" height="2.1" fill="#1a1f2c"/>
<rect x="73.35000000000001" y="387.55" width="2.1" height="2.1" fill="#1a1f2c"/>
<rect x="72.35000000000001" y="388.95" width="2.1" height="2.1" fill="#1a1f2c"/>
<rect x="103.65" y="387.15" width="2.1" height="2.1" fill="#1a1f2c"/>
<rect x="118.25" y="387.55" width="2.1" height="2.1" fill="#1a1f2c"/>
<rect x="48.75" y="388.95" width="2.1" height="2.1" fill="#1a1f2c"/>
<rect x="44.150000000000006" y="389.55" width="2.1" height="2.1" fill="#1a1f2c"/>
<rect x="55.650000000000006" y="391.55" width="2.1" height="2.1" fill="#1a1f2c"/>
<rect x="40.0" y="387.6" width="2.0" height="2.0" fill="#46659a"/>
<rect x="43.2" y="389.8" width="2.0" height="2.0" fill="#46659a"/>
<rect x="39.0" y="390.5" width="2.0" height="2.0" fill="#46659a"/>
<text x="54.1" y="343.5" font-size="5.6" font-weight="bold" fill="#151515" textLength="23.3" lengthAdjust="spacingAndGlyphs" stroke="#151515" stroke-width="0.15">P = 0.041</text>
<text transform="translate(18.2,398.8) rotate(-90) scale(0.7490,1)" font-size="8.0" fill="#222" stroke="#222" stroke-width="0.3"><tspan>% CD4+ GFP(HIV)+ T cells</tspan></text>
<text transform="translate(51.0,419.3) scale(0.7418,1)" font-size="8.2" fill="#222" stroke="#222" stroke-width="0.3"><tspan>% activated CD8+ T cells</tspan></text>
<line x1="165.7" y1="330.5" x2="165.7" y2="394.35" stroke="#111" stroke-width="1.4"/>
<line x1="165.0" y1="393.6" x2="259.5" y2="393.6" stroke="#111" stroke-width="1.5"/>
<line x1="162.79999999999998" y1="332.59999999999997" x2="165.7" y2="332.59999999999997" stroke="#111" stroke-width="1.25"/>
<text x="160.7" y="334.9" font-size="6.6" text-anchor="end" fill="#222">40</text>
<line x1="162.79999999999998" y1="347.9" x2="165.7" y2="347.9" stroke="#111" stroke-width="1.25"/>
<text x="160.7" y="350.2" font-size="6.6" text-anchor="end" fill="#222">30</text>
<line x1="162.79999999999998" y1="363.09999999999997" x2="165.7" y2="363.09999999999997" stroke="#111" stroke-width="1.25"/>
<text x="160.7" y="365.4" font-size="6.6" text-anchor="end" fill="#222">20</text>
<line x1="162.79999999999998" y1="378.4" x2="165.7" y2="378.4" stroke="#111" stroke-width="1.25"/>
<text x="160.7" y="380.7" font-size="6.6" text-anchor="end" fill="#222">10</text>
<line x1="162.79999999999998" y1="393.7" x2="165.7" y2="393.7" stroke="#111" stroke-width="1.25"/>
<text x="160.7" y="396.0" font-size="6.6" text-anchor="end" fill="#222">0</text>
<line x1="165.7" y1="393.6" x2="165.7" y2="396.5" stroke="#111" stroke-width="1.25"/>
<text x="165.7" y="404.70000000000005" font-size="6.6" text-anchor="middle" fill="#222">0</text>
<line x1="188.5" y1="393.6" x2="188.5" y2="396.5" stroke="#111" stroke-width="1.25"/>
<text x="188.5" y="404.70000000000005" font-size="6.6" text-anchor="middle" fill="#222">20</text>
<line x1="211.3" y1="393.6" x2="211.3" y2="396.5" stroke="#111" stroke-width="1.25"/>
<text x="211.3" y="404.70000000000005" font-size="6.6" text-anchor="middle" fill="#222">40</text>
<line x1="234.1" y1="393.6" x2="234.1" y2="396.5" stroke="#111" stroke-width="1.25"/>
<text x="234.1" y="404.70000000000005" font-size="6.6" text-anchor="middle" fill="#222">60</text>
<line x1="256.9" y1="393.6" x2="256.9" y2="396.5" stroke="#111" stroke-width="1.25"/>
<text x="256.9" y="404.70000000000005" font-size="6.6" text-anchor="middle" fill="#222">80</text>
<rect x="164.85" y="384.2" width="1.7" height="9.4" fill="#46659a"/>
<line x1="167.2" y1="385.8" x2="232.7" y2="388.8" stroke="#111" stroke-width="1.4" stroke-dasharray="1.1 1.0"/>
<rect x="168.45" y="336.75" width="2.1" height="2.1" fill="#1a1f2c"/>
<rect x="176.75" y="358.75" width="2.1" height="2.1" fill="#1a1f2c"/>
<rect x="168.35" y="381.25" width="2.1" height="2.1" fill="#1a1f2c"/>
<rect x="177.35" y="379.34999999999997" width="2.1" height="2.1" fill="#1a1f2c"/>
<rect x="174.45" y="387.05" width="2.1" height="2.1" fill="#1a1f2c"/>
<rect x="179.25" y="389.34999999999997" width="2.1" height="2.1" fill="#1a1f2c"/>
<rect x="187.75" y="386.65" width="2.1" height="2.1" fill="#1a1f2c"/>
<rect x="200.95" y="389.55" width="2.1" height="2.1" fill="#1a1f2c"/>
<rect x="204.75" y="386.95" width="2.1" height="2.1" fill="#1a1f2c"/>
<rect x="228.14999999999998" y="389.15" width="2.1" height="2.1" fill="#1a1f2c"/>
<rect x="231.25" y="387.45" width="2.1" height="2.1" fill="#1a1f2c"/>
<rect x="176.2" y="391.3" width="2.0" height="2.0" fill="#46659a"/>
<rect x="166.2" y="388.0" width="2.0" height="2.0" fill="#46659a"/>
<text x="182.0" y="344.3" font-size="5.5" fill="#555" textLength="21.2" lengthAdjust="spacingAndGlyphs">P = 0.33</text>
<text transform="translate(146.0,398.6) rotate(-90) scale(0.7490,1)" font-size="8.0" fill="#222" stroke="#222" stroke-width="0.3"><tspan>% CD4+ GFP(HIV)+ T cells</tspan></text>
<text transform="translate(176.1,419.3) scale(0.7373,1)" font-size="8.2" fill="#222" stroke="#222" stroke-width="0.3"><tspan>% activated 56</tspan><tspan dy="-3.12" font-size="5.90">bright</tspan><tspan dy="3.12" font-size="8.2"> NK cells</tspan></text>
<line x1="292.0" y1="330.5" x2="292.0" y2="394.35" stroke="#111" stroke-width="1.4"/>
<line x1="291.3" y1="393.6" x2="385.5" y2="393.6" stroke="#111" stroke-width="1.5"/>
<line x1="289.1" y1="332.59999999999997" x2="292.0" y2="332.59999999999997" stroke="#111" stroke-width="1.25"/>
<text x="287.0" y="334.9" font-size="6.6" text-anchor="end" fill="#222">40</text>
<line x1="289.1" y1="347.9" x2="292.0" y2="347.9" stroke="#111" stroke-width="1.25"/>
<text x="287.0" y="350.2" font-size="6.6" text-anchor="end" fill="#222">30</text>
<line x1="289.1" y1="363.09999999999997" x2="292.0" y2="363.09999999999997" stroke="#111" stroke-width="1.25"/>
<text x="287.0" y="365.4" font-size="6.6" text-anchor="end" fill="#222">20</text>
<line x1="289.1" y1="378.4" x2="292.0" y2="378.4" stroke="#111" stroke-width="1.25"/>
<text x="287.0" y="380.7" font-size="6.6" text-anchor="end" fill="#222">10</text>
<line x1="289.1" y1="393.7" x2="292.0" y2="393.7" stroke="#111" stroke-width="1.25"/>
<text x="287.0" y="396.0" font-size="6.6" text-anchor="end" fill="#222">0</text>
<line x1="291.8" y1="393.6" x2="291.8" y2="396.5" stroke="#111" stroke-width="1.25"/>
<text x="291.8" y="404.70000000000005" font-size="6.6" text-anchor="middle" fill="#222">0</text>
<line x1="314.7" y1="393.6" x2="314.7" y2="396.5" stroke="#111" stroke-width="1.25"/>
<text x="314.7" y="404.70000000000005" font-size="6.6" text-anchor="middle" fill="#222">20</text>
<line x1="337.6" y1="393.6" x2="337.6" y2="396.5" stroke="#111" stroke-width="1.25"/>
<text x="337.6" y="404.70000000000005" font-size="6.6" text-anchor="middle" fill="#222">40</text>
<line x1="360.5" y1="393.6" x2="360.5" y2="396.5" stroke="#111" stroke-width="1.25"/>
<text x="360.5" y="404.70000000000005" font-size="6.6" text-anchor="middle" fill="#222">60</text>
<line x1="383.4" y1="393.6" x2="383.4" y2="396.5" stroke="#111" stroke-width="1.25"/>
<text x="383.4" y="404.70000000000005" font-size="6.6" text-anchor="middle" fill="#222">80</text>
<rect x="291.15" y="385.9" width="1.7" height="7.7" fill="#46659a"/>
<rect x="292" y="392.75" width="20.3" height="1.7" fill="#46659a"/>
<line x1="299.1" y1="386.3" x2="373.4" y2="381.6" stroke="#111" stroke-width="1.4" stroke-dasharray="1.1 1.0"/>
<rect x="300.05" y="336.75" width="2.1" height="2.1" fill="#1a1f2c"/>
<rect x="332.05" y="358.75" width="2.1" height="2.1" fill="#1a1f2c"/>
<rect x="292.95" y="370.95" width="2.1" height="2.1" fill="#1a1f2c"/>
<rect x="317.65" y="379.25" width="2.1" height="2.1" fill="#1a1f2c"/>
<rect x="299.15" y="381.55" width="2.1" height="2.1" fill="#1a1f2c"/>
<rect x="335.15" y="386.95" width="2.1" height="2.1" fill="#1a1f2c"/>
<rect x="325.65" y="389.55" width="2.1" height="2.1" fill="#1a1f2c"/>
<rect x="373.15" y="387.45" width="2.1" height="2.1" fill="#1a1f2c"/>
<rect x="299.65" y="388.95" width="2.1" height="2.1" fill="#1a1f2c"/>
<rect x="294.0" y="384.2" width="2.0" height="2.0" fill="#46659a"/>
<rect x="295.5" y="386.5" width="2.0" height="2.0" fill="#46659a"/>
<rect x="297.5" y="384.0" width="2.0" height="2.0" fill="#46659a"/>
<rect x="294.5" y="389.5" width="2.0" height="2.0" fill="#46659a"/>
<rect x="296.8" y="388.2" width="2.0" height="2.0" fill="#46659a"/>
<rect x="307.4" y="387.4" width="2.0" height="2.0" fill="#46659a"/>
<rect x="308.6" y="389.0" width="2.0" height="2.0" fill="#46659a"/>
<rect x="309.6" y="390.2" width="2.0" height="2.0" fill="#46659a"/>
<rect x="293.0" y="391.0" width="2.0" height="2.0" fill="#46659a"/>
<text x="308.0" y="344.1" font-size="6.0" fill="#444" textLength="21.2" lengthAdjust="spacingAndGlyphs" font-family="Liberation Serif">P = 0.30</text>
<text transform="translate(272.3,398.6) rotate(-90) scale(0.7490,1)" font-size="8.0" fill="#222" stroke="#222" stroke-width="0.3"><tspan>% CD4+ GFP(HIV)+ T cells</tspan></text>
<text transform="translate(304.0,419.3) scale(0.7370,1)" font-size="8.2" fill="#222" stroke="#222" stroke-width="0.3"><tspan>% activated 56</tspan><tspan dy="-3.12" font-size="5.90">dim</tspan><tspan dy="3.12" font-size="8.2"> NK cells</tspan></text>
<line x1="417.3" y1="330.5" x2="417.3" y2="394.35" stroke="#111" stroke-width="1.4"/>
<line x1="416.6" y1="393.6" x2="511.0" y2="393.6" stroke="#111" stroke-width="1.5"/>
<line x1="414.40000000000003" y1="332.59999999999997" x2="417.3" y2="332.59999999999997" stroke="#111" stroke-width="1.25"/>
<text x="412.3" y="334.9" font-size="6.6" text-anchor="end" fill="#222">40</text>
<line x1="414.40000000000003" y1="347.9" x2="417.3" y2="347.9" stroke="#111" stroke-width="1.25"/>
<text x="412.3" y="350.2" font-size="6.6" text-anchor="end" fill="#222">30</text>
<line x1="414.40000000000003" y1="363.09999999999997" x2="417.3" y2="363.09999999999997" stroke="#111" stroke-width="1.25"/>
<text x="412.3" y="365.4" font-size="6.6" text-anchor="end" fill="#222">20</text>
<line x1="414.40000000000003" y1="378.4" x2="417.3" y2="378.4" stroke="#111" stroke-width="1.25"/>
<text x="412.3" y="380.7" font-size="6.6" text-anchor="end" fill="#222">10</text>
<line x1="414.40000000000003" y1="393.7" x2="417.3" y2="393.7" stroke="#111" stroke-width="1.25"/>
<text x="412.3" y="396.0" font-size="6.6" text-anchor="end" fill="#222">0</text>
<line x1="417.5" y1="393.6" x2="417.5" y2="396.5" stroke="#111" stroke-width="1.25"/>
<text x="417.5" y="404.70000000000005" font-size="6.6" text-anchor="middle" fill="#222">0</text>
<line x1="435.9" y1="393.6" x2="435.9" y2="396.5" stroke="#111" stroke-width="1.25"/>
<text x="435.9" y="404.70000000000005" font-size="6.6" text-anchor="middle" fill="#222">5</text>
<line x1="454.1" y1="393.6" x2="454.1" y2="396.5" stroke="#111" stroke-width="1.25"/>
<text x="454.1" y="404.70000000000005" font-size="6.6" text-anchor="middle" fill="#222">10</text>
<line x1="472.3" y1="393.6" x2="472.3" y2="396.5" stroke="#111" stroke-width="1.25"/>
<text x="472.3" y="404.70000000000005" font-size="6.6" text-anchor="middle" fill="#222">15</text>
<line x1="490.5" y1="393.6" x2="490.5" y2="396.5" stroke="#111" stroke-width="1.25"/>
<text x="490.5" y="404.70000000000005" font-size="6.6" text-anchor="middle" fill="#222">20</text>
<line x1="508.7" y1="393.6" x2="508.7" y2="396.5" stroke="#111" stroke-width="1.25"/>
<text x="508.7" y="404.70000000000005" font-size="6.6" text-anchor="middle" fill="#222">25</text>
<rect x="416.45" y="387.5" width="1.7" height="6.1" fill="#46659a"/>
<rect x="417.6" y="392.75" width="14" height="1.7" fill="#46659a"/>
<line x1="419.0" y1="389.0" x2="487.0" y2="376.4" stroke="#111" stroke-width="1.4" stroke-dasharray="1.1 1.0"/>
<rect x="440.65" y="336.75" width="2.1" height="2.1" fill="#1a1f2c"/>
<rect x="462.25" y="358.75" width="2.1" height="2.1" fill="#1a1f2c"/>
<rect x="432.45" y="379.45" width="2.1" height="2.1" fill="#1a1f2c"/>
<rect x="426.45" y="381.25" width="2.1" height="2.1" fill="#1a1f2c"/>
<rect x="436.95" y="389.84999999999997" width="2.1" height="2.1" fill="#1a1f2c"/>
<rect x="470.84999999999997" y="387.25" width="2.1" height="2.1" fill="#1a1f2c"/>
<rect x="486.84999999999997" y="387.25" width="2.1" height="2.1" fill="#1a1f2c"/>
<rect x="447.84999999999997" y="391.55" width="2.1" height="2.1" fill="#1a1f2c"/>
<rect x="418.0" y="387.0" width="2.0" height="2.0" fill="#46659a"/>
<rect x="420.0" y="386.0" width="2.0" height="2.0" fill="#46659a"/>
<rect x="422.0" y="385.5" width="2.0" height="2.0" fill="#46659a"/>
<rect x="424.0" y="385.0" width="2.0" height="2.0" fill="#46659a"/>
<rect x="426.0" y="384.5" width="2.0" height="2.0" fill="#46659a"/>
<rect x="427.5" y="383.8" width="2.0" height="2.0" fill="#46659a"/>
<rect x="419.0" y="389.0" width="2.0" height="2.0" fill="#46659a"/>
<rect x="421.5" y="388.5" width="2.0" height="2.0" fill="#46659a"/>
<rect x="424.0" y="388.0" width="2.0" height="2.0" fill="#46659a"/>
<rect x="426.5" y="387.5" width="2.0" height="2.0" fill="#46659a"/>
<rect x="428.5" y="386.5" width="2.0" height="2.0" fill="#46659a"/>
<rect x="420.0" y="390.8" width="2.0" height="2.0" fill="#46659a"/>
<rect x="423.0" y="390.5" width="2.0" height="2.0" fill="#46659a"/>
<rect x="426.0" y="390.0" width="2.0" height="2.0" fill="#46659a"/>
<rect x="429.5" y="389.0" width="2.0" height="2.0" fill="#46659a"/>
<text x="433.2" y="343.9" font-size="6.0" fill="#444" textLength="20.0" lengthAdjust="spacingAndGlyphs" font-family="Liberation Serif">P = 0.31</text>
<text transform="translate(397.8,398.6) rotate(-90) scale(0.7490,1)" font-size="8.0" fill="#222" stroke="#222" stroke-width="0.3"><tspan>% CD4+ GFP(HIV)+ T cells</tspan></text>
<text transform="translate(425.1,419.3) scale(0.7322,1)" font-size="8.2" fill="#222" stroke="#222" stroke-width="0.3"><tspan>% activated CD3</tspan><tspan dy="-3.12" font-size="5.90">+</tspan><tspan dy="3.12" font-size="8.2">CD56</tspan><tspan dy="-3.12" font-size="5.90">+</tspan><tspan dy="3.12" font-size="8.2"> cells</tspan></text>
<rect x="0" y="0" width="520" height="1.1" fill="#000"/>
<rect x="0" y="0" width="1.1" height="427" fill="#000"/>
<rect x="518.6" y="0" width="1.4" height="427" fill="#000"/>
<rect x="0" y="425.1" width="520" height="1.9" fill="#000"/>
</svg>
</body></html>
